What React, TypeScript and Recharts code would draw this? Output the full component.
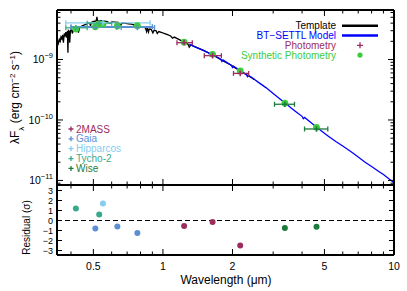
import React from "react";
import {
  ComposedChart,
  Line,
  Scatter,
  XAxis,
  YAxis,
  ErrorBar,
  ReferenceLine,
} from "recharts";

const FONT = '"Liberation Sans", Arial, Helvetica, sans-serif';

// wavelength axis (micron), shared by both panels
const WL_DOMAIN = [0.348, 10];
const WL_MAJOR = [0.5, 1, 2, 5, 10];
const WL_MINOR = [0.4, 0.6, 0.7, 0.8, 0.9, 3, 4, 6, 7, 8, 9];

// lambda F_lambda axis
const FLUX_DOMAIN = [8.4e-12, 6.6e-9];
const FLUX_MAJOR = [1e-11, 1e-10, 1e-9];
const FLUX_MINOR = [
  9e-12, 2e-11, 3e-11, 4e-11, 5e-11, 6e-11, 7e-11, 8e-11, 9e-11, 2e-10, 3e-10,
  4e-10, 5e-10, 6e-10, 7e-10, 8e-10, 9e-10, 2e-9, 3e-9, 4e-9, 5e-9, 6e-9,
];

// residual axis
const RES_DOMAIN = [-3.45, 3.55];
const RES_TICKS = [-3, -2, -1, 0, 1, 2, 3];

// template spectrum
const TEMPLATE_WL = [
  0.346, 0.35, 0.353, 0.356, 0.359, 0.362, 0.365, 0.368, 0.371, 0.374, 0.377,
  0.38, 0.383, 0.386, 0.388, 0.39, 0.393, 0.395, 0.398, 0.402, 0.406, 0.41,
  0.415, 0.42, 0.426, 0.431, 0.436, 0.442, 0.45, 0.458, 0.466, 0.474, 0.482,
  0.486, 0.49, 0.498, 0.506, 0.514, 0.518, 0.522, 0.53, 0.545, 0.56, 0.575,
  0.589, 0.6, 0.62, 0.64, 0.656, 0.67, 0.69, 0.71, 0.73, 0.75, 0.76, 0.775,
  0.8, 0.82, 0.84, 0.85, 0.856, 0.866, 0.872, 0.89, 0.905, 0.915, 0.935, 0.945,
  0.96, 0.99, 1.01, 1.04, 1.08, 1.1, 1.12, 1.16, 1.2, 1.24, 1.28, 1.3, 1.32,
  1.38, 1.44, 1.5, 1.56, 1.6, 1.64, 1.7, 1.76, 1.83, 1.9, 1.96, 2.03, 2.1,
  2.16, 2.23, 2.3, 2.4, 2.48,
];
const TEMPLATE_FLUX = [
  1.95e-9, 2.05e-9, 1.85e-9, 2.15e-9, 2.0e-9, 2.35e-9, 2.2e-9, 2.55e-9, 1.9e-9,
  2.7e-9, 2.5e-9, 2.85e-9, 2.3e-9, 2.95e-9, 1.3e-9, 3.0e-9, 2.9e-9, 1.9e-9,
  3.05e-9, 3.1e-9, 2.7e-9, 3.2e-9, 3.3e-9, 3.35e-9, 3.3e-9, 2.8e-9, 3.45e-9,
  3.5e-9, 3.65e-9, 3.75e-9, 3.85e-9, 3.95e-9, 4.05e-9, 3.6e-9, 4.1e-9,
  4.25e-9, 4.3e-9, 4.35e-9, 5.1e-9, 4.2e-9, 4.4e-9, 4.35e-9, 4.3e-9, 4.25e-9,
  3.95e-9, 4.2e-9, 4.15e-9, 4.1e-9, 3.75e-9, 4.05e-9, 3.95e-9, 3.9e-9,
  3.85e-9, 3.75e-9, 3.45e-9, 3.65e-9, 3.55e-9, 3.45e-9, 3.35e-9, 2.9e-9,
  3.3e-9, 2.85e-9, 3.2e-9, 3.15e-9, 2.75e-9, 3.05e-9, 2.98e-9, 2.7e-9, 2.9e-9,
  2.8e-9, 2.72e-9, 2.6e-9, 2.45e-9, 2.25e-9, 2.35e-9, 2.2e-9, 2.05e-9,
  1.95e-9, 1.82e-9, 1.6e-9, 1.75e-9, 1.62e-9, 1.52e-9, 1.42e-9, 1.32e-9,
  1.25e-9, 1.19e-9, 1.1e-9, 1.02e-9, 9.4e-10, 8.7e-10, 8.2e-10, 7.5e-10,
  6.9e-10, 6.5e-10, 6.0e-10, 5.6e-10, 5.1e-10, 4.7e-10,
];

// BT-SETTL model
const MODEL_WL = [
  1.3, 1.4, 1.5, 1.58, 1.6, 1.62, 1.7, 1.78, 1.8, 1.82, 1.9, 1.98, 2.0, 2.02,
  2.1, 2.2, 2.3, 2.32, 2.34, 2.45, 2.6, 2.8, 3.0, 3.2, 3.4, 3.6, 3.8, 4.0,
  4.05, 4.1, 4.3, 4.6, 4.9, 5.2, 5.6, 6.0, 6.5, 7.0, 7.5, 8.0, 8.5, 9.0, 9.5,
  10.0,
];
const MODEL_FLUX = [
  1.78e-9, 1.57e-9, 1.4e-9, 1.28e-9, 1.18e-9, 1.25e-9, 1.12e-9, 1.01e-9,
  9.3e-10, 9.9e-10, 8.8e-10, 8.0e-10, 7.4e-10, 7.8e-10, 7.05e-10, 6.3e-10,
  5.6e-10, 5.2e-10, 5.5e-10, 4.9e-10, 4.15e-10, 3.4e-10, 2.75e-10, 2.25e-10,
  1.87e-10, 1.56e-10, 1.33e-10, 1.15e-10, 1.05e-10, 1.1e-10, 9.5e-11, 7.7e-11,
  6.4e-11, 5.4e-11, 4.4e-11, 3.7e-11, 3.0e-11, 2.45e-11, 2.0e-11, 1.7e-11,
  1.45e-11, 1.25e-11, 1.07e-11, 9.2e-12,
];

// photometry
const SURVEYS = ["2MASS", "Gaia", "Hipparcos", "Tycho-2", "Wise"];
const SURVEY_COLORS = ["#9b2c5e", "#5b8fd4", "#86ccef", "#3aa98b", "#1d7b3b"];

const BAND_SURVEY = [
  "Tycho-2", "Tycho-2", "Hipparcos", "Gaia", "Gaia", "Gaia",
  "2MASS", "2MASS", "2MASS", "Wise", "Wise",
];
const BAND_WL = [0.42, 0.53, 0.55, 0.51, 0.635, 0.775, 1.235, 1.64, 2.16, 3.37, 4.62];
const BAND_WL_LO = [0.38, 0.47, 0.38, 0.4, 0.4, 0.63, 1.15, 1.51, 2.02, 3.04, 4.1];
const BAND_WL_HI = [0.47, 0.6, 0.88, 0.66, 0.9, 0.92, 1.34, 1.79, 2.35, 3.71, 5.17];
const PHOT_FLUX = [
  3.35e-9, 4.0e-9, 4.05e-9, 3.4e-9, 3.5e-9, 3.4e-9, 1.9e-9, 1.16e-9, 5.9e-10,
  1.82e-10, 7.1e-11,
];
const SYNTH_FLUX = [
  3.19e-9, 3.9e-9, 3.85e-9, 3.5e-9, 3.6e-9, 3.62e-9, 1.94e-9, 1.22e-9, 6.5e-10,
  1.89e-10, 7.55e-11,
];
const RESIDUAL = [1.2, 0.6, 1.7, -0.8, -0.6, -1.25, -0.55, -0.15, -2.5, -0.75, -0.62];

const templateData = TEMPLATE_WL.map((x, i) => ({ x, y: TEMPLATE_FLUX[i] }));
const modelData = MODEL_WL.map((x, i) => ({ x, y: MODEL_FLUX[i] }));
const photRows = BAND_WL.map((x, i) => ({
  x,
  y: PHOT_FLUX[i],
  ex: [x - BAND_WL_LO[i], BAND_WL_HI[i] - x],
  survey: BAND_SURVEY[i],
}));
const synthRows = BAND_WL.map((x, i) => ({ x, y: SYNTH_FLUX[i] }));
const resRows = BAND_WL.map((x, i) => ({ x, y: RESIDUAL[i], survey: BAND_SURVEY[i] }));

const crossShape = (color: string) => (p: any) => (
  <path
    d={`M${p.cx - 2.8},${p.cy}H${p.cx + 2.8}M${p.cx},${p.cy - 2.8}V${p.cy + 2.8}`}
    stroke={color}
    strokeWidth={1.5}
    fill="none"
  />
);
const dotShape = (color: string, r: number) => (p: any) => (
  <circle cx={p.cx} cy={p.cy} r={r} fill={color} />
);

const PowTick = (props: any) => {
  const { x, y, payload } = props;
  const exp = Math.round(Math.log10(payload.value));
  return (
    <text x={x} y={y} dy="0.36em" textAnchor="end" fontSize={10.5} fill="#000" fontFamily={FONT}>
      10
      <tspan fontSize={7.5} dy={-5}>{`−${-exp}`}</tspan>
    </text>
  );
};

const noLabel = () => <g />;
const frame = { stroke: "#000", strokeWidth: 2 };
const tl = { stroke: "#000", strokeWidth: 1 };
const THIN = 0.01; // mirrored axes take (almost) no room

// inward tick marks on all four sides
function frameAxes(yDomain: number[], yMajor: number[], yMinor: number[] | null, yScale: "log" | "linear") {
  const xCommon = {
    dataKey: "x",
    type: "number" as const,
    scale: "log" as const,
    domain: WL_DOMAIN,
    allowDataOverflow: true,
    mirror: true,
    height: THIN,
    tick: noLabel,
    interval: 0,
    tickLine: tl,
  };
  const yCommon = {
    dataKey: "y",
    type: "number" as const,
    scale: yScale,
    domain: yDomain,
    allowDataOverflow: true,
    mirror: true,
    width: THIN,
    tick: noLabel,
    interval: 0,
    tickLine: tl,
  };
  const out = [
    <XAxis key="xb" xAxisId="b" orientation="bottom" ticks={WL_MAJOR} tickSize={6} axisLine={frame} {...xCommon} />,
    <XAxis key="xbm" xAxisId="bm" orientation="bottom" ticks={WL_MINOR} tickSize={3.5} axisLine={false} {...xCommon} />,
    <XAxis key="xt" xAxisId="t" orientation="top" ticks={WL_MAJOR} tickSize={6} axisLine={frame} {...xCommon} />,
    <XAxis key="xtm" xAxisId="tm" orientation="top" ticks={WL_MINOR} tickSize={3.5} axisLine={false} {...xCommon} />,
    <YAxis key="yl" yAxisId="l" orientation="left" ticks={yMajor} tickSize={yMinor ? 6 : 5} axisLine={frame} {...yCommon} />,
    <YAxis key="yr" yAxisId="r" orientation="right" ticks={yMajor} tickSize={yMinor ? 6 : 5} axisLine={frame} {...yCommon} />,
  ];
  if (yMinor) {
    out.push(
      <YAxis key="ylm" yAxisId="lm" orientation="left" ticks={yMinor} tickSize={3.5} axisLine={false} {...yCommon} />,
      <YAxis key="yrm" yAxisId="rm" orientation="right" ticks={yMinor} tickSize={3.5} axisLine={false} {...yCommon} />
    );
  }
  return out;
}

const LEGEND_RIGHT = [
  { label: "Template", color: "#000000", kind: "line" },
  { label: "BT−SETTL Model", color: "#0000ff", kind: "line" },
  { label: "Photometry", color: "#9b2c5e", kind: "cross" },
  { label: "Synthetic Photometry", color: "#3ccc3c", kind: "dot" },
];

export default function App() {
  return (
    <div
      style={{
        position: "absolute",
        left: 0,
        top: 0,
        width: 407,
        height: 291,
        background: "#fff",
        fontFamily: FONT,
      }}
    >
      <div style={{ position: "absolute", left: 0, top: 0 }}>
        <ComposedChart width={407} height={186} margin={{ top: 10, right: 13, bottom: 1, left: 0 }}>
          {frameAxes(FLUX_DOMAIN, FLUX_MAJOR, FLUX_MINOR, "log")}
          <YAxis
            yAxisId="lab"
            orientation="left"
            width={57}
            type="number"
            scale="log"
            domain={FLUX_DOMAIN}
            allowDataOverflow
            ticks={FLUX_MAJOR}
            interval={0}
            tickSize={0}
            tickMargin={4}
            axisLine={false}
            tickLine={false}
            tick={<PowTick />}
          />
          <Line
            data={templateData}
            dataKey="y"
            xAxisId="b"
            yAxisId="l"
            type="linear"
            stroke="#000"
            strokeWidth={1.3}
            dot={false}
            isAnimationActive={false}
          />
          <Line
            data={modelData}
            dataKey="y"
            xAxisId="b"
            yAxisId="l"
            type="linear"
            stroke="#0000ff"
            strokeWidth={1.3}
            dot={false}
            isAnimationActive={false}
          />
          <Scatter
            data={synthRows}
            xAxisId="b"
            yAxisId="l"
            shape={dotShape("#3ccc3c", 3.4)}
            isAnimationActive={false}
          />
          {SURVEYS.map((s, i) => (
            <Scatter
              key={s}
              data={photRows.filter((r) => r.survey === s)}
              xAxisId="b"
              yAxisId="l"
              shape={crossShape(SURVEY_COLORS[i])}
              isAnimationActive={false}
            >
              <ErrorBar
                dataKey="ex"
                direction="x"
                width={2.5}
                stroke={SURVEY_COLORS[i]}
                strokeWidth={1.3}
                isAnimationActive={false}
              />
            </Scatter>
          ))}
        </ComposedChart>
      </div>

      <div style={{ position: "absolute", left: 0, top: 185 }}>
        <ComposedChart width={407} height={106} margin={{ top: 0, right: 13, bottom: 0, left: 0 }}>
          {frameAxes(RES_DOMAIN, RES_TICKS, null, "linear")}
          <XAxis
            xAxisId="lab"
            orientation="bottom"
            height={36}
            dataKey="x"
            type="number"
            scale="log"
            domain={WL_DOMAIN}
            allowDataOverflow
            ticks={WL_MAJOR}
            interval={0}
            tickSize={0}
            tickMargin={8}
            axisLine={false}
            tickLine={false}
            tick={{ fontSize: 10.5, fill: "#000", fontFamily: FONT }}
          />
          <YAxis
            yAxisId="lab"
            orientation="left"
            width={57}
            type="number"
            domain={RES_DOMAIN}
            allowDataOverflow
            ticks={RES_TICKS}
            interval={0}
            tickSize={0}
            tickMargin={4}
            axisLine={false}
            tickLine={false}
            tickFormatter={(v: number) => (v < 0 ? `−${-v}` : `${v}`)}
            tick={{ fontSize: 9, fill: "#000", fontFamily: FONT }}
          />
          <ReferenceLine
            y={0}
            xAxisId="b"
            yAxisId="l"
            stroke="#000"
            strokeWidth={1.2}
            strokeDasharray="5 3"
          />
          {SURVEYS.map((s, i) => (
            <Scatter
              key={s}
              data={resRows.filter((r) => r.survey === s)}
              xAxisId="b"
              yAxisId="l"
              shape={dotShape(SURVEY_COLORS[i], 3)}
              isAnimationActive={false}
            />
          ))}
        </ComposedChart>
      </div>

      <svg
        width={407}
        height={291}
        style={{ position: "absolute", left: 0, top: 0, pointerEvents: "none" }}
        fontFamily={FONT}
      >
        <text transform="translate(18.5,97.5) rotate(-90)" textAnchor="middle" fontSize={12} fill="#000">
          λF<tspan baselineShift="sub" fontSize={8}>λ</tspan> (erg cm
          <tspan baselineShift="super" fontSize={8}>−2</tspan> s
          <tspan baselineShift="super" fontSize={8}>−1</tspan>)
        </text>
        <text transform="translate(30,227.5) rotate(-90)" textAnchor="middle" fontSize={10} fill="#000">
          Residual (σ)
        </text>
        <text x={226} y={284} textAnchor="middle" fontSize={12} fill="#000">
          Wavelength (μm)
        </text>

        {LEGEND_RIGHT.map((e, i) => {
          const cy = 25.7 + i * 9.8;
          return (
            <g key={e.label}>
              <text x={336} y={cy + 3.6} textAnchor="end" fontSize={10} fill={e.color}>
                {e.label}
              </text>
              {e.kind === "line" && (
                <line x1={342} x2={378} y1={cy} y2={cy} stroke={e.color} strokeWidth={2.5} />
              )}
              {e.kind === "cross" && (
                <path d={`M357,${cy}H363M360,${cy - 3}V${cy + 3}`} stroke={e.color} strokeWidth={1.3} />
              )}
              {e.kind === "dot" && <circle cx={360} cy={cy} r={2.6} fill={e.color} />}
            </g>
          );
        })}

        {SURVEYS.map((s, i) => {
          const cy = 129 + i * 9.85;
          return (
            <g key={s}>
              <path d={`M68.5,${cy}H73.5M71,${cy - 2.5}V${cy + 2.5}`} stroke={SURVEY_COLORS[i]} strokeWidth={1.3} />
              <text x={76} y={cy + 3.6} fontSize={10} fill={SURVEY_COLORS[i]}>
                {s}
              </text>
            </g>
          );
        })}
      </svg>
    </div>
  );
}
